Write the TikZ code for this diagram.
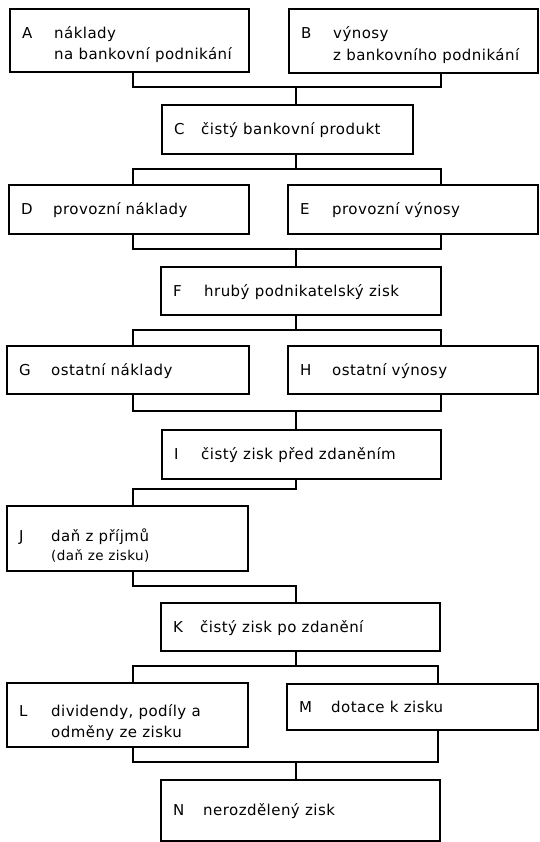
\documentclass[tikz,border=0pt]{standalone}
\usepackage{fontspec}
\setmainfont{DejaVu Sans}[LetterSpace=3]
\begin{document}
\begin{tikzpicture}[x=1pt,y=-1pt,
  box/.style={draw, line width=1.6pt, inner sep=0pt, anchor=north west},
  conn/.style={line width=1.1pt},
  lab/.style={anchor=base west, inner sep=0pt, font=\fontsize{15}{17}\selectfont},
  labsmall/.style={anchor=base west, inner sep=0pt, font=\fontsize{13.5}{15}\selectfont},
]
\useasboundingbox (0,0) rectangle (539,842);
% boxes
\node[box, minimum width=239pt, minimum height=63pt] (A) at (9,8) {};
\node[box, minimum width=249pt, minimum height=64pt] (B) at (288,8) {};
\node[box, minimum width=251pt, minimum height=49pt] (C) at (161,104) {};
\node[box, minimum width=240pt, minimum height=49pt] (D) at (8,184) {};
\node[box, minimum width=250pt, minimum height=49pt] (E) at (287,184) {};
\node[box, minimum width=280pt, minimum height=48pt] (F) at (160,266) {};
\node[box, minimum width=242pt, minimum height=48pt] (G) at (6,345) {};
\node[box, minimum width=250pt, minimum height=48pt] (H) at (287,345) {};
\node[box, minimum width=279pt, minimum height=49pt] (I) at (161,429) {};
\node[box, minimum width=241pt, minimum height=65pt] (J) at (6,505) {};
\node[box, minimum width=279pt, minimum height=48pt] (K) at (160,602) {};
\node[box, minimum width=241pt, minimum height=64pt] (L) at (6,682) {};
\node[box, minimum width=251pt, minimum height=46pt] (M) at (286,683) {};
\node[box, minimum width=279pt, minimum height=61pt] (N) at (160,779) {};
% texts
\node[lab] (Al) at ([shift={(13,31)}]A.north west) {A};
\node[lab] (At1) at ([shift={(45,31)}]A.north west) {náklady};
\node[lab] (At2) at ([shift={(45,52)}]A.north west) {na bankovní podnikání};
\node[lab] (Bl) at ([shift={(13,31)}]B.north west) {B};
\node[lab] (Bt1) at ([shift={(45,31)}]B.north west) {výnosy};
\node[lab] (Bt2) at ([shift={(45,53)}]B.north west) {z bankovního podnikání};
\node[lab] (Cl) at ([shift={(13,5.5)}]C.west) {C};
\node[lab] (Ct) at ([shift={(40,5.5)}]C.west) {čistý bankovní produkt};
\node[lab] (Dl) at ([shift={(13,5.5)}]D.west) {D};
\node[lab] (Dt) at ([shift={(45,5.5)}]D.west) {provozní náklady};
\node[lab] (El) at ([shift={(13,5.5)}]E.west) {E};
\node[lab] (Et) at ([shift={(45,5.5)}]E.west) {provozní výnosy};
\node[lab] (Fl) at ([shift={(13,5.5)}]F.west) {F};
\node[lab] (Ft) at ([shift={(44,5.5)}]F.west) {hrubý podnikatelský zisk};
\node[lab] (Gl) at ([shift={(13,5.5)}]G.west) {G};
\node[lab] (Gt) at ([shift={(45,5.5)}]G.west) {ostatní náklady};
\node[lab] (Hl) at ([shift={(13,5.5)}]H.west) {H};
\node[lab] (Ht) at ([shift={(45,5.5)}]H.west) {ostatní výnosy};
\node[lab] (Il) at ([shift={(13,5.5)}]I.west) {I};
\node[lab] (It) at ([shift={(40,5.5)}]I.west) {čistý zisk před zdaněním};
\node[lab] (Jl) at ([shift={(13,36)}]J.north west) {J};
\node[lab] (Jt1) at ([shift={(45,36)}]J.north west) {daň z příjmů};
\node[labsmall] (Jt2) at ([shift={(45,55)}]J.north west) {(daň ze zisku)};
\node[lab] (Kl) at ([shift={(13,5.5)}]K.west) {K};
\node[lab] (Kt) at ([shift={(40,5.5)}]K.west) {čistý zisk po zdanění};
\node[lab] (Ll) at ([shift={(13,34)}]L.north west) {L};
\node[lab] (Lt1) at ([shift={(45,34)}]L.north west) {dividendy, podíly a};
\node[lab] (Lt2) at ([shift={(45,55)}]L.north west) {odměny ze zisku};
\node[lab] (Ml) at ([shift={(13,5.5)}]M.west) {M};
\node[lab] (Mt) at ([shift={(45,5.5)}]M.west) {dotace k zisku};
\node[lab] (Nl) at ([shift={(13,5.5)}]N.west) {N};
\node[lab] (Nt) at ([shift={(43,5.5)}]N.west) {nerozdělený zisk};
% connector columns and junctions
\coordinate (xl) at (133,0);
\coordinate (xr) at (441,0);
\coordinate (xq) at (438,0);
\coordinate (j1) at (296,87);
\coordinate (j2) at (296,169);
\coordinate (j3) at (296,249);
\coordinate (j4) at (296,330);
\coordinate (j5) at (296,411);
\coordinate (j6) at (296,489);
\coordinate (j7) at (296,586);
\coordinate (j8) at (296,666);
\coordinate (j9) at (296,762);
% connectors
\draw[conn] (A.south -| xl) |- (j1) -| (B.south -| xr);
\draw[conn] (j1) -- (C.north -| j1);
\draw[conn] (C.south -| j2) -- (j2);
\draw[conn] (D.north -| xl) |- (j2) -| (E.north -| xr);
\draw[conn] (D.south -| xl) |- (j3) -| (E.south -| xr);
\draw[conn] (j3) -- (F.north -| j3);
\draw[conn] (F.south -| j4) -- (j4);
\draw[conn] (G.north -| xl) |- (j4) -| (H.north -| xr);
\draw[conn] (G.south -| xl) |- (j5) -| (H.south -| xr);
\draw[conn] (j5) -- (I.north -| j5);
\draw[conn] (I.south -| j6) -- (j6) -| (J.north -| xl);
\draw[conn] (J.south -| xl) |- (j7) -- (K.north -| j7);
\draw[conn] (K.south -| j8) -- (j8);
\draw[conn] (L.north -| xl) |- (j8) -| (M.north -| xq);
\draw[conn] (L.south -| xl) |- (j9) -| (M.south -| xq);
\draw[conn] (j9) -- (N.north -| j9);
\end{tikzpicture}
\end{document}
